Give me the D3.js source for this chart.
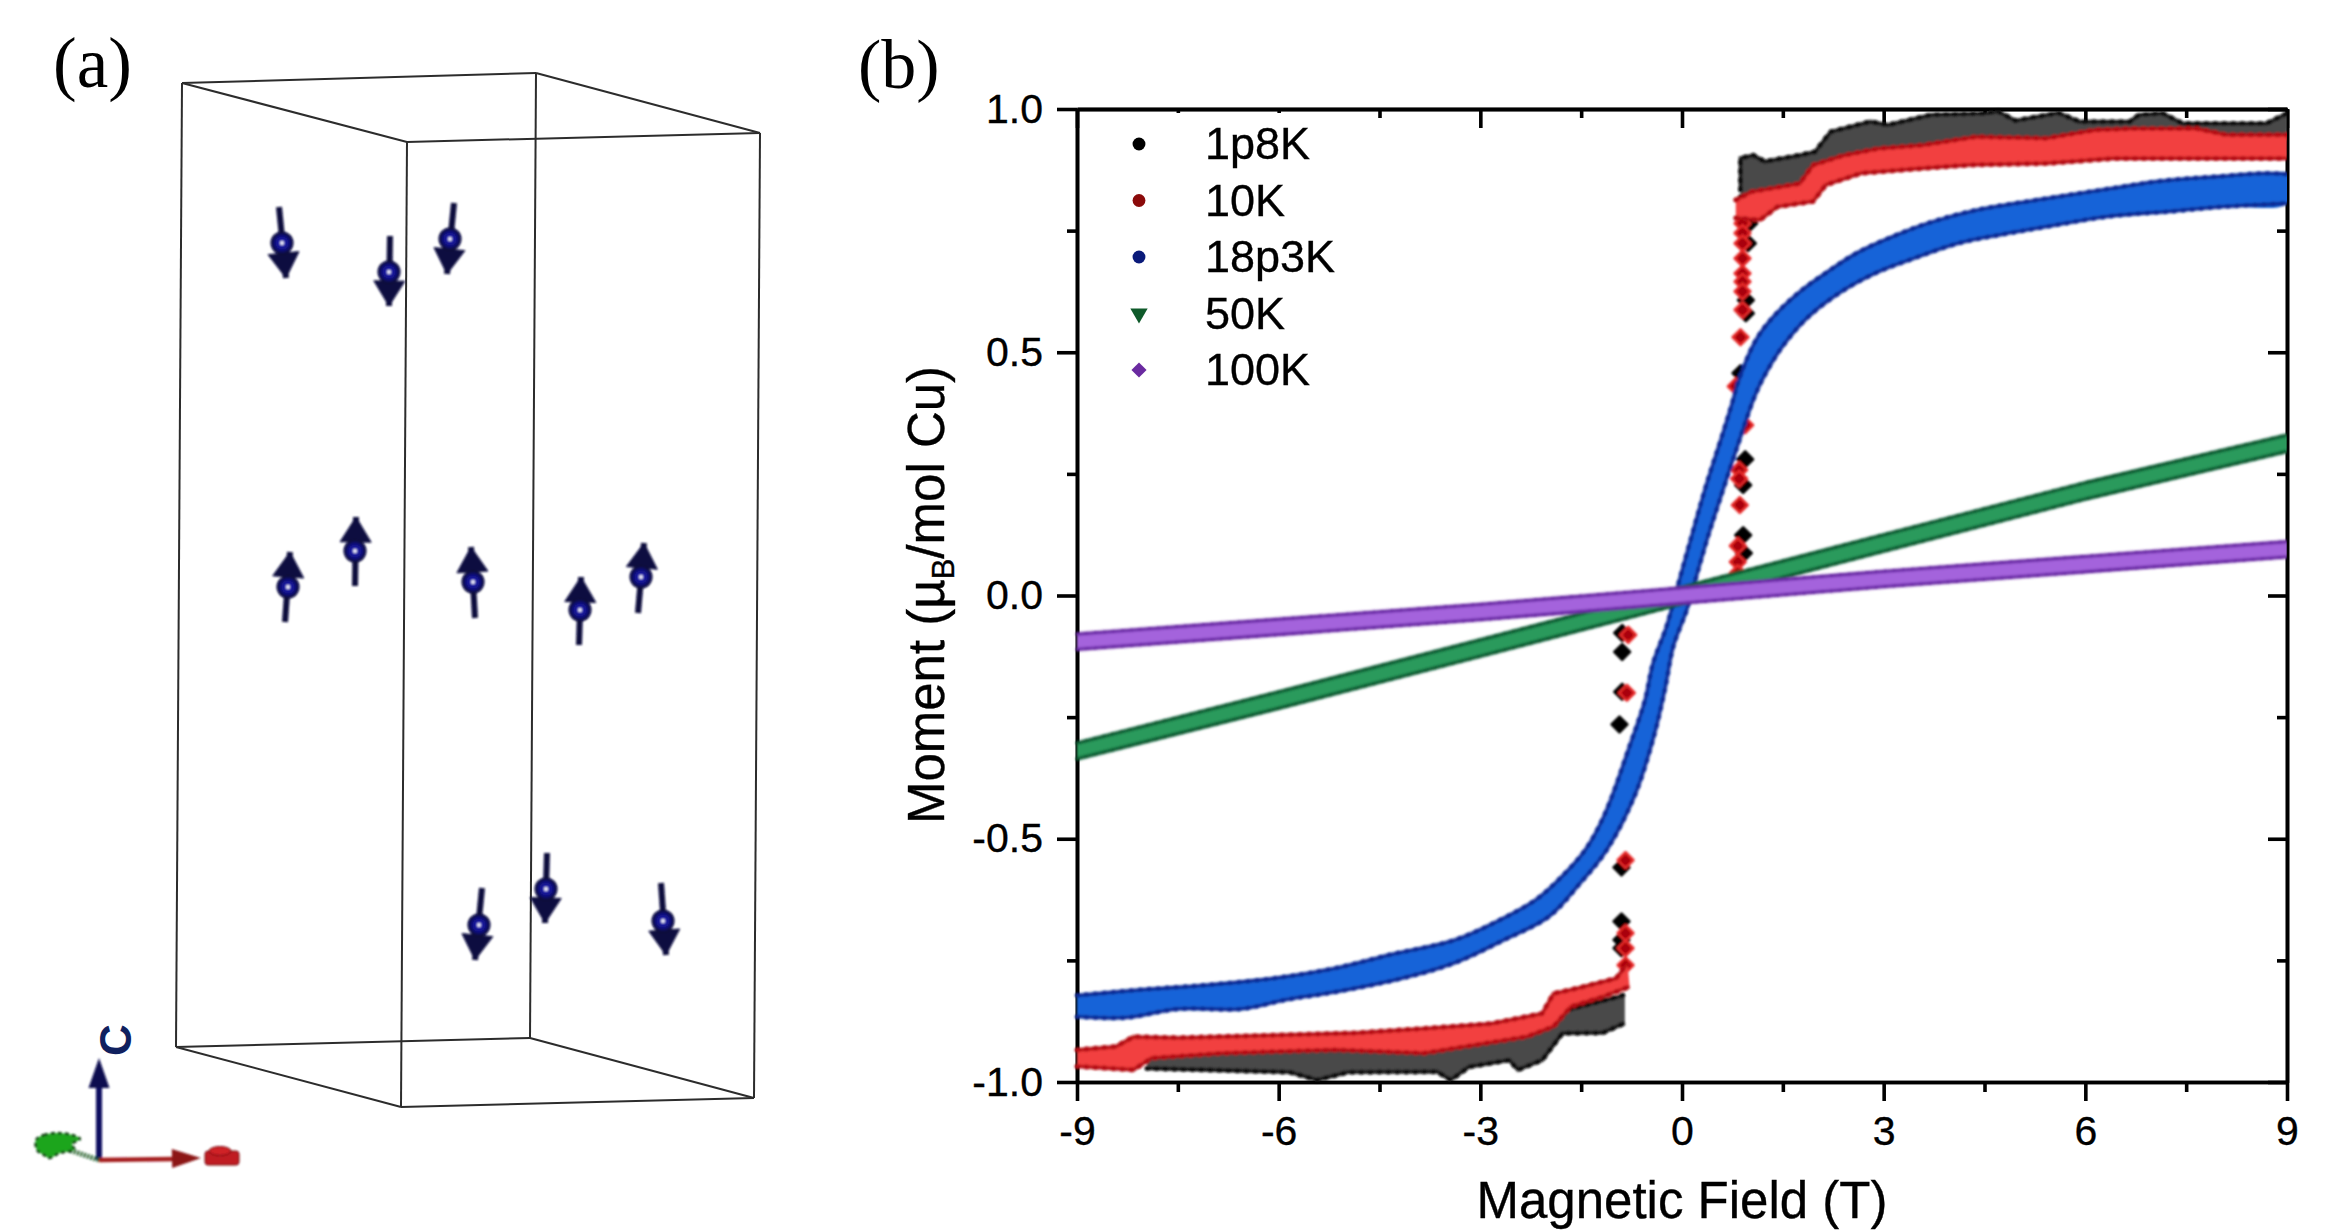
<!DOCTYPE html>
<html><head><meta charset="utf-8">
<script src="https://cdn.jsdelivr.net/npm/d3@7"></script>
<style>html,body{margin:0;background:#fff}svg{display:block}text{font-family:"Liberation Sans",Arial,sans-serif;fill:#000;stroke:#000;stroke-width:.35px}</style>
</head><body><svg id="c" width="2340" height="1231"></svg>
<script>
// ---------- (b) data : [field T, moment] ----------
const seriesNames = ["1p8K","10K","18p3K","50K","100K"];
const xTicks=[-9,-6,-3,0,3,6,9], xTickLabels=["-9","-6","-3","0","3","6","9"];
const yTicks=[-1,-0.5,0,0.5,1], yTickLabels=["-1.0","-0.5","0.0","0.5","1.0"];
const xMinor=[-7.5,-4.5,-1.5,1.5,4.5,7.5], yMinor=[-0.75,-0.25,0.25,0.75];
const xTopStubs=[-7.5,-6];

const black_posTop=[[.87,.834],[.87,.899],[1.06,.905],[1.23,.892],[1.75,.905],[1.98,.912],[2.21,.953],[2.8,.974],[3.06,.967],[3.71,.988],[4.5,.991],[4.7,.995],[4.96,.976],[5.6,.992],[5.91,.974],[6.66,.974],[6.8,.988],[7.15,.991],[7.45,.97],[8.69,.97],[9,.991]];
const black_posBot=[[.87,.82],[1.75,.83],[1.95,.87],[2.41,.89],[2.93,.9],[3.59,.91],[4.37,.93],[5.42,.93],[6.14,.94],[7.65,.945],[8.1,.94],[9,.94]];
const black_negTop=[[-7.96,-.948],[-6.83,-.93],[-5.16,-.92],[-3.84,-.93],[-2.31,-.9],[-1.9,-.88],[-1.71,-.852],[-.95,-.825],[-.85,-.82]];
const black_negBot=[[-7.96,-.972],[-7.16,-.975],[-5.83,-.98],[-5.43,-.996],[-4.97,-.98],[-3.64,-.979],[-3.44,-.996],[-3.17,-.969],[-2.57,-.955],[-2.44,-.975],[-2.08,-.955],[-1.78,-.9],[-1.18,-.899],[-.85,-.879]];
const red_posTop=[[.8,.813],[1.03,.83],[1.75,.847],[1.95,.885],[2.41,.905],[2.93,.919],[3.59,.926],[4.37,.943],[5.42,.94],[6.14,.957],[6.73,.96],[7.65,.96],[8.1,.947],[9,.947]];
const red_posBot=[[.8,.776],[1.16,.772],[1.42,.799],[1.95,.81],[2.14,.844],[2.67,.868],[3.59,.878],[4.3,.885],[5.42,.888],[6.4,.898],[7.38,.898],[9,.898]];
const red_negTop=[[-9,-.934],[-8.42,-.927],[-8.16,-.907],[-7.49,-.909],[-6.16,-.904],[-4.84,-.899],[-3.84,-.89],[-2.84,-.88],[-2.08,-.859],[-1.91,-.818],[-1.58,-.808],[-.98,-.787],[-.81,-.756]];
const red_negBot=[[-9,-.968],[-8.16,-.975],[-7.89,-.951],[-6.83,-.941],[-5.16,-.934],[-3.84,-.941],[-2.31,-.907],[-1.91,-.886],[-1.65,-.845],[-1.18,-.825],[-.78,-.804]];
const blue_top=[[-9,-.822],[-8.02,-.81],[-7.02,-.8],[-6.03,-.786],[-5.16,-.766],[-4.3,-.737],[-3.38,-.708],[-2.71,-.667],[-2.18,-.626],[-1.84,-.585],[-1.44,-.523],[-1.15,-.45],[-.78,-.31],[-.55,-.215],[-.43,-.139],[-.23,-.064],[-.08,.011],[.17,.135],[.37,.231],[.61,.334],[.76,.402],[.83,.437],[1.1,.525],[1.36,.573],[1.75,.624],[2.14,.663],[2.6,.704],[3.19,.741],[3.72,.768],[4.37,.792],[5.42,.816],[6.4,.837],[7.12,.852],[8.04,.862],[8.69,.868],[9,.866]];
const blue_bot=[[-9,-.866],[-8.29,-.868],[-7.49,-.85],[-6.56,-.85],[-5.89,-.831],[-5.16,-.815],[-4.17,-.787],[-3.38,-.755],[-2.65,-.708],[-1.98,-.66],[-1.52,-.592],[-1.12,-.523],[-.7,-.41],[-.42,-.29],[-.25,-.19],[-.13,-.105],[.07,-.03],[.17,.018],[.37,.114],[.56,.196],[.89,.334],[1.06,.402],[1.2,.445],[1.49,.511],[1.88,.573],[2.41,.628],[2.93,.666],[3.45,.693],[4.11,.724],[4.76,.742],[5.42,.758],[6.34,.779],[7.32,.79],[8.04,.799],[9,.806]];
const green_top=[[-9,-.303],[-6,-.198],[-3,-.091],[0,.017],[3,.125],[6,.232],[9,.33]];
const green_bot=[[-9,-.336],[-6,-.232],[-3,-.125],[0,-.017],[3,.091],[6,.198],[9,.296]];
const purple_top=[[-9,-.079],[-3,-.018],[0,.016],[3,.05],[9,.111]];
const purple_bot=[[-9,-.111],[-3,-.05],[0,-.016],[3,.018],[9,.079]];
const black_jump=[[1,.765],[.98,.724],[.95,.607],[.95,.58],[.87,.457],[.94,.28],[.91,.227],[.91,.124],[.92,.087],[-.89,-.077],[-.89,-.116],[-.89,-.198],[-.93,-.265],[-.9,-.559],[-.9,-.67],[-.9,-.708],[-.9,-.725]];
const red_jump=[[.9,.765],[.9,.745],[.9,.724],[.9,.693],[.9,.662],[.9,.645],[.9,.625],[.9,.587],[.87,.531],[.8,.43],[.94,.35],[.85,.258],[.85,.24],[.86,.186],[.83,.102],[.83,.069],[.83,.046],[-.8,-.081],[-.82,-.2],[-.84,-.544],[-.84,-.694],[-.84,-.725],[-.84,-.76]];

// ---------- (a) schematic, in picture units ----------
const boxCorners={tl:[182,83],tb:[536,73],tr:[760,133],tf:[407,142],bl:[176,1047],bb:[530,1038],br:[754,1098],bf:[401,1107]};
const boxEdges=[["tl","tb"],["tb","tr"],["tr","tf"],["tf","tl"],["bl","bb"],["bb","br"],["br","bf"],["bf","bl"],["tl","bl"],["tb","bb"],["tr","br"],["tf","bf"]];
// ball centre, tail end, arrow tip
const spins=[[282,243,279,207,286,278],[389,272,390,236,389,306],[450,239,454,203,447,274],
[288,587,285,622,290,552],[355,551,355,586,356,517],[473,582,475,618,471,547],[580,610,579,645,581,577],[641,577,638,613,644,543],
[479,925,482,888,475,960],[546,889,547,853,545,923],[663,921,661,883,666,955]];
const greenBlob=[[36,1140],[44,1135],[58,1133],[72,1135],[80,1139],[72,1144],[74,1150],[60,1153],[50,1158],[44,1155],[37,1150]];

const svg=d3.select("#c");
const defs=svg.append("defs");
defs.append("filter").attr("id","soft").attr("x","-5%").attr("y","-5%").attr("width","110%").attr("height","110%")
  .append("feGaussianBlur").attr("stdDeviation",0.8);
defs.append("clipPath").attr("id","plotClip").append("rect").attr("x",1000).attr("y",90).attr("width",1287).attr("height",1000);
const rg=defs.append("radialGradient").attr("id","ball");
rg.append("stop").attr("offset","0%").attr("stop-color","#2a2ac8");
rg.append("stop").attr("offset","60%").attr("stop-color","#101080");
rg.append("stop").attr("offset","100%").attr("stop-color","#05052e");

// ---------- panel (a) ----------
const pa=svg.append("g");
const px=d3.scaleLinear([0,1],[0,1]), py=d3.scaleLinear([0,1],[0,1]);
pa.append("g").selectAll("line").data(boxEdges).join("line")
  .attr("x1",d=>px(boxCorners[d[0]][0])).attr("y1",d=>py(boxCorners[d[0]][1]))
  .attr("x2",d=>px(boxCorners[d[1]][0])).attr("y2",d=>py(boxCorners[d[1]][1]))
  .attr("stroke","#2c2c2c").attr("stroke-width",2);
function arrowHead(tipX,tipY,fromX,fromY,len,w){
  const dx=tipX-fromX,dy=tipY-fromY,L=Math.hypot(dx,dy),ux=dx/L,uy=dy/L;
  const bx=tipX-ux*len,by=tipY-uy*len;
  return `M${tipX},${tipY}L${bx-uy*w/2},${by+ux*w/2}L${bx+uy*w/2},${by-ux*w/2}Z`;
}
const sp=pa.append("g").attr("filter","url(#soft)").selectAll("g").data(spins).join("g");
sp.append("line").attr("x1",d=>px(d[2])).attr("y1",d=>py(d[3])).attr("x2",d=>px(d[4])).attr("y2",d=>py(d[5]))
  .attr("stroke","#0a0a3c").attr("stroke-width",6);
sp.append("path").attr("d",d=>arrowHead(px(d[4]),py(d[5]),px(d[2]),py(d[3]),25,31)).attr("fill","#0a0a40").attr("stroke","#0a0a40");
sp.append("circle").attr("cx",d=>px(d[0])).attr("cy",d=>py(d[1])).attr("r",11.5).attr("fill","url(#ball)");
sp.append("circle").attr("cx",d=>px(d[0])).attr("cy",d=>py(d[1])).attr("r",1.9).attr("fill","#fff");

const tri=pa.append("g").attr("filter","url(#soft)");
tri.append("line").attr("x1",99).attr("y1",1160).attr("x2",99).attr("y2",1085).attr("stroke","#0a0a60").attr("stroke-width",6);
tri.append("path").attr("d",arrowHead(99,1058,99,1160,30,21)).attr("fill","#0a0a50");
tri.append("line").attr("x1",99).attr("y1",1160).attr("x2",175).attr("y2",1159).attr("stroke","#a41a1f").attr("stroke-width",4.5);
tri.append("path").attr("d",arrowHead(201,1158,99,1160,29,19)).attr("fill","#8c1418");
tri.append("line").attr("x1",99).attr("y1",1160).attr("x2",60).attr("y2",1147).attr("stroke","#1c5a24").attr("stroke-width",5).attr("stroke-dasharray","2 1.5");
tri.append("path").attr("d",d3.line().curve(d3.curveCardinalClosed)(greenBlob)).attr("fill","#1da51f").attr("stroke","#123f14").attr("stroke-width",2.5).attr("stroke-dasharray","4 3");
tri.append("rect").attr("x",205).attr("y",1151).attr("width",34).attr("height",14).attr("rx",3).attr("fill","#c01a20").attr("stroke","#6c0c10");
tri.append("ellipse").attr("cx",220).attr("cy",1151).attr("rx",11).attr("ry",4.5).attr("fill","#d02228").attr("stroke","#6c0c10");
pa.append("text").text("C").attr("transform","translate(131,1040) rotate(-90)").attr("text-anchor","middle")
  .attr("font-size",44).attr("font-weight",700).style("fill","#10205e").style("stroke","none");

svg.append("text").text("(a)").attr("x",53).attr("y",87).style("font-family","'Liberation Serif',serif").style("stroke","none").attr("font-size",71);
svg.append("text").text("(b)").attr("x",858).attr("y",88).style("font-family","'Liberation Serif',serif").style("stroke","none").attr("font-size",70);

// ---------- panel (b) ----------
const x=d3.scaleLinear([-9,9],[1077,2287]), y=d3.scaleLinear([-1,1],[1082,109]);
const g=svg.append("g");
const axisStyle=s=>{s.selectAll("path,line").attr("stroke","#000").attr("stroke-width",3.6);s.selectAll("text").style("font-size","41px").style("fill","#000");};
const xLab=d=>xTickLabels[xTicks.indexOf(d)], yLab=d=>yTickLabels[yTicks.indexOf(d)];
const topMinor=xMinor.filter(d=>!xTopStubs.includes(d)), topMajor=xTicks.filter(d=>!xTopStubs.includes(d));

g.append("g").attr("transform",`translate(0,${y(-1)})`).call(d3.axisBottom(x).tickValues(xMinor).tickSize(10).tickFormat("").tickSizeOuter(0)).call(axisStyle);
g.append("g").attr("transform",`translate(0,${y(-1)})`).call(d3.axisBottom(x).tickValues(xTicks).tickSize(19).tickPadding(15).tickFormat(xLab).tickSizeOuter(0)).call(axisStyle);
g.append("g").attr("transform",`translate(${x(-9)},0)`).call(d3.axisLeft(y).tickValues(yMinor).tickSize(10).tickFormat("").tickSizeOuter(0)).call(axisStyle);
g.append("g").attr("transform",`translate(${x(-9)},0)`).call(d3.axisLeft(y).tickValues(yTicks).tickSize(20).tickPadding(14).tickFormat(yLab).tickSizeOuter(0)).call(axisStyle);
g.append("g").attr("transform",`translate(0,${y(1)})`).call(d3.axisBottom(x).tickValues(xTopStubs).tickSize(4).tickFormat("").tickSizeOuter(0)).call(axisStyle);
g.append("g").attr("transform",`translate(0,${y(1)})`).call(d3.axisBottom(x).tickValues(topMinor).tickSize(9).tickFormat("").tickSizeOuter(0)).call(axisStyle);
g.append("g").attr("transform",`translate(0,${y(1)})`).call(d3.axisBottom(x).tickValues(topMajor).tickSize(19).tickFormat("").tickSizeOuter(0)).call(axisStyle);
g.append("g").attr("transform",`translate(${x(9)},0)`).call(d3.axisLeft(y).tickValues(yMinor).tickSize(10).tickFormat("").tickSizeOuter(0)).call(axisStyle);
g.append("g").attr("transform",`translate(${x(9)},0)`).call(d3.axisLeft(y).tickValues(yTicks).tickSize(19).tickFormat("").tickSizeOuter(0)).call(axisStyle);
g.selectAll("text").attr("font-family","'Liberation Sans',Arial,sans-serif");

// data bands
const data=svg.append("g").attr("clip-path","url(#plotClip)").append("g").attr("filter","url(#soft)");
const ln=d3.line().x(d=>x(d[0])).y(d=>y(d[1]));
const smooth=d3.line().x(d=>x(d[0])).y(d=>y(d[1])).curve(d3.curveCatmullRom.alpha(0.5));
function band(top,bot,fill,edge,tooth,gen){
  const poly=top.concat(bot.slice().reverse());
  data.append("path").attr("d",gen(poly)+"Z").attr("fill",fill);
  [top,bot].forEach(e=>{
    data.append("path").attr("d",gen(e)).attr("fill","none").attr("stroke",edge).attr("stroke-width",5).attr("stroke-opacity",.35);
    data.append("path").attr("d",gen(e)).attr("fill","none").attr("stroke",edge).attr("stroke-width",2.6).attr("stroke-linejoin","round");
    data.append("path").attr("d",gen(e)).attr("fill","none").attr("stroke",edge).attr("stroke-width",tooth).attr("stroke-dasharray","1 8").attr("stroke-linecap","round");
  });
}
function jump(pts,fill,edge){
  data.append("g").selectAll("path").data(pts).join("path")
    .attr("transform",d=>`translate(${x(d[0])},${y(d[1])}) rotate(45)`)
    .attr("d",d3.symbol(d3.symbolSquare,125)).attr("fill",fill).attr("stroke",edge).attr("stroke-width",2.5).attr("stroke-linejoin","round");
}
jump(black_jump,"#000","#000");
band(black_posTop,black_posBot,"#4a4a4a","#0c0c0c",5,ln);
band(black_negTop,black_negBot,"#4a4a4a","#0c0c0c",5,ln);
jump(red_jump,"#a80008","#e82a2a");
band(red_posTop,red_posBot,"#f2403f","#b50f12",5,ln);
band(red_negTop,red_negBot,"#f2403f","#b50f12",5,ln);
band(blue_top,blue_bot,"#1763d8","#0b2a94",4.5,smooth);
band(green_top,green_bot,"#2a9a5c","#0b5a30",3,ln);
band(purple_top,purple_bot,"#a463dc","#6b2aa5",3,ln);

// legend
const legendY=d3.scalePoint(seriesNames,[144,370]);
const legendColor=d3.scaleOrdinal(seriesNames,["#000","#8b0a0a","#0a1a7a","#0f5a2a","#6a2aa0"]);
const legendSym=d3.scaleOrdinal(seriesNames,[d3.symbolCircle,d3.symbolCircle,d3.symbolCircle,d3.symbolTriangle,d3.symbolSquare]);
const lg=svg.append("g").selectAll("g").data(seriesNames).join("g").attr("transform",d=>`translate(1139,${legendY(d)})`);
lg.append("path").attr("d",d=>d3.symbol(legendSym(d),d==="100K"?115:d==="50K"?130:130)())
  .attr("transform",d=>d==="50K"?"rotate(180)":d==="100K"?"rotate(45)":null).attr("fill",legendColor);
lg.append("text").text(d=>d).attr("x",66).attr("y",15).attr("font-size",45);

// axis titles
svg.append("text").text("Magnetic Field (T)").attr("x",1682).attr("y",1218).attr("text-anchor","middle").attr("font-size",51);
const yt=svg.append("text").attr("transform","translate(944,595) rotate(-90)").attr("text-anchor","middle").attr("font-size",51);
yt.append("tspan").text("Moment (µ");
yt.append("tspan").text("B").attr("font-size",31).attr("dy",10);
yt.append("tspan").text("/mol Cu)").attr("dy",-10);
</script></body></html>
